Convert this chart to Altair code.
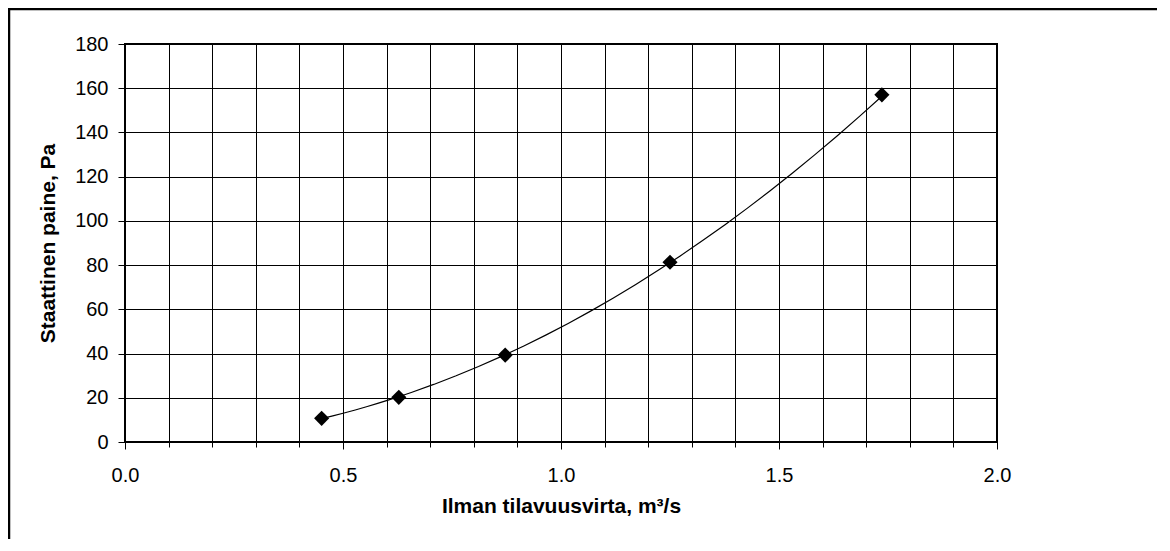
import altair as alt
import pandas as pd

# Data
flow = [0.451, 0.628, 0.872, 1.250, 1.736]          # m³/s
pressure = [10.7, 20.2, 39.3, 81.3, 157.0]           # Pa
x_ticks = [round(i * 0.1, 1) for i in range(21)]
y_ticks = [0, 20, 40, 60, 80, 100, 120, 140, 160, 180]

x_title = "Ilman tilavuusvirta, m³/s"
y_title = "Staattinen paine, Pa"

FONT = "Liberation Sans"
W, H = 872, 398
PAD_L, PAD_T, PAD_R, PAD_B = 117, 36, 160, 97

df = pd.DataFrame({"q": flow, "p": pressure})
one = pd.DataFrame({"a": [0]})

major = "abs(datum.value*2 - round(datum.value*2)) < 0.001"

x_axis = alt.Axis(
    values=x_ticks,
    labelExpr=f"{major} ? format(datum.value, '.1f') : ''",
    title=x_title,
    grid=True,
    tickSize={"condition": {"test": major, "value": 7}, "value": 5},
    labelPadding=16,
    labelFlush=False,
    titleY=64,
    titleBaseline="middle",
)
y_axis = alt.Axis(
    values=y_ticks,
    title=y_title,
    grid=True,
    tickSize=7,
    labelPadding=10,
    labelFlush=False,
    titleX=-77,
    titleY=H / 2,
    titleAngle=-90,
    titleAlign="center",
    titleBaseline="middle",
)

x_enc = alt.X("q:Q", scale=alt.Scale(domain=[0, 2], nice=False, zero=True), axis=x_axis)
y_enc = alt.Y("p:Q", scale=alt.Scale(domain=[0, 180], nice=False), axis=y_axis)

trend = (
    alt.Chart(df)
    .transform_regression("q", "p", method="pow")
    .mark_line(color="black", strokeWidth=1.2)
    .encode(x=x_enc, y=y_enc)
)

points = (
    alt.Chart(df)
    .mark_point(shape="diamond", filled=True, color="black", size=230, opacity=1)
    .encode(x="q:Q", y="p:Q")
)

border_left = (
    alt.Chart(one)
    .mark_rule(color="black", strokeWidth=2.5)
    .encode(x=alt.value(-116), y=alt.value(-36), y2=alt.value(H + PAD_B))
)
border_top = (
    alt.Chart(one)
    .mark_rule(color="black", strokeWidth=2.5)
    .encode(x=alt.value(-117), x2=alt.value(W + PAD_R), y=alt.value(-35))
)

chart = (
    alt.layer(trend, points, border_left, border_top)
    .properties(
        width=W,
        height=H,
        autosize=alt.AutoSizeParams(type="none"),
        padding={"left": PAD_L, "top": PAD_T, "right": PAD_R, "bottom": PAD_B},
        background="white",
    )
    .configure_view(stroke="black", strokeWidth=2)
    .configure_axis(
        domain=False,
        gridColor="black",
        gridOpacity=1,
        gridWidth=1,
        tickColor="black",
        tickWidth=1,
        labelFont=FONT,
        labelFontSize=20,
        labelColor="black",
        titleFont=FONT,
        titleFontSize=21,
        titleFontWeight="bold",
        titleColor="black",
    )
)

chart.save("out.html", embed_options={"renderer": "svg", "actions": False})
